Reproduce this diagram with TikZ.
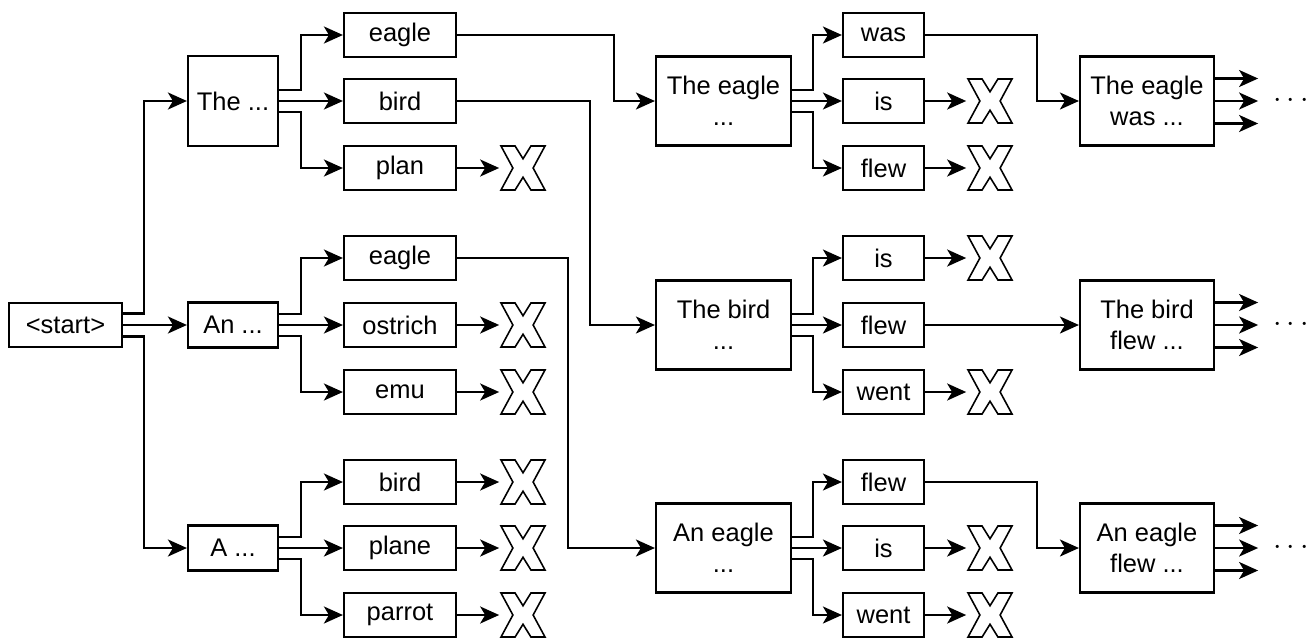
\documentclass[tikz,border=0pt]{standalone}
\usepackage{fontspec}
\setmainfont{Liberation Sans}
\usetikzlibrary{arrows.meta,positioning,calc}

\begin{document}
\begin{tikzpicture}[
            x=0.02cm, y=-0.02cm,
            font=\fontsize{14.5}{17.6}\selectfont,
            box/.style={
                    rectangle,
                    draw,
                    line width=1.25pt,
                    inner sep=0pt,
                    align=center
                },
            wordbox/.style={box, minimum width=2.24cm, minimum height=0.88cm},
            shortbox/.style={box, minimum width=1.62cm, minimum height=0.88cm},
            prefixbox/.style={box, minimum width=2.7cm, minimum height=1.78cm},
            resultbox/.style={box, minimum width=2.68cm, minimum height=1.78cm},
            rejectmark/.style={
                    minimum size=0.94cm,
                    inner sep=0pt,
                    path picture={
                            \draw[shift={(path picture bounding box.center)}, x=0.44cm, y=0.44cm,
                                line width=0.9pt, fill=white, line join=miter]
                            (-1,1) -- (-0.36,1) -- (0,0.42) -- (0.36,1) -- (1,1) -- (0.46,0)
                            -- (1,-1) -- (0.36,-1) -- (0,-0.42) -- (-0.36,-1) -- (-1,-1)
                            -- (-0.46,0) -- cycle;
                        }
                },
            moredots/.style={font=\fontsize{18}{18}\selectfont, inner sep=0pt},
            arrow/.style={-{Stealth[length=0.38cm, width=0.34cm, inset=0.1cm]}, line width=1.25pt}
        ]
        \useasboundingbox (0,0) rectangle (1310,639);

        % start and first words
        \node[box, minimum width=2.26cm, minimum height=0.88cm] (start) at (65.5,325) {<start>};
        \node[box, minimum width=1.8cm, minimum height=1.8cm] (the) at (233,101) {The ...};
        \node[box, minimum width=1.8cm, minimum height=0.9cm] (an) at (233,325) {An ...};
        \node[box, minimum width=1.8cm, minimum height=0.9cm] (a) at (233,548) {A ...};

        % second words
        \node[wordbox] (eagle1) at (400,35) {eagle};
        \node[wordbox] (bird1) at (400,101) {bird};
        \node[wordbox] (plan1) at (400,168) {plan};
        \node[wordbox] (eagle2) at (400,258) {eagle};
        \node[wordbox] (ostrich2) at (400,325) {ostrich};
        \node[wordbox] (emu2) at (400,392) {emu};
        \node[wordbox] (bird3) at (400,482) {bird};
        \node[wordbox] (plane3) at (400,548) {plane};
        \node[wordbox] (parrot3) at (400,615) {parrot};

        \node[rejectmark] (xplan1) at (523,168) {};
        \node[rejectmark] (xostrich2) at (523,325) {};
        \node[rejectmark] (xemu2) at (523,392) {};
        \node[rejectmark] (xbird3) at (523,482) {};
        \node[rejectmark] (xplane3) at (523,548) {};
        \node[rejectmark] (xparrot3) at (523,615) {};

        % kept prefixes
        \node[prefixbox] (theeagle) at (723.5,101) {The eagle\\...};
        \node[prefixbox] (thebird) at (723.5,325) {The bird\\...};
        \node[prefixbox] (aneagle) at (723.5,548) {An eagle\\...};

        % third words
        \node[shortbox] (was1) at (883.5,35) {was};
        \node[shortbox] (is1) at (883.5,101) {is};
        \node[shortbox] (flew1) at (883.5,168) {flew};
        \node[shortbox] (is2) at (883.5,258) {is};
        \node[shortbox] (flew2) at (883.5,325) {flew};
        \node[shortbox] (went2) at (883.5,392) {went};
        \node[shortbox] (flew3) at (883.5,482) {flew};
        \node[shortbox] (is3) at (883.5,548) {is};
        \node[shortbox] (went3) at (883.5,615) {went};

        \node[rejectmark] (xis1) at (990,101) {};
        \node[rejectmark] (xflew1) at (990,168) {};
        \node[rejectmark] (xis2) at (990,258) {};
        \node[rejectmark] (xwent2) at (990,392) {};
        \node[rejectmark] (xis3) at (990,548) {};
        \node[rejectmark] (xwent3) at (990,615) {};

        % results
        \node[resultbox] (eaglewas) at (1147,101) {The eagle\\was ...};
        \node[resultbox] (birdflew) at (1147,325) {The bird\\flew ...};
        \node[resultbox] (eagleflew) at (1147,548) {An eagle\\flew ...};

        \node[moredots] (dots1) at (1291,101) {$\cdots$};
        \node[moredots] (dots2) at (1291,325) {$\cdots$};
        \node[moredots] (dots3) at (1291,548) {$\cdots$};

        % from start
        \draw[arrow] ([yshift=0.23cm]start.east) -- ++(21,0) |- (the.west);
        \draw[arrow] (start) -- (an);
        \draw[arrow] ([yshift=-0.23cm]start.east) -- ++(21,0) |- (a.west);

        % first words to second words
        \draw[arrow] ([yshift=0.22cm]the.east) -- ++(22,0) |- (eagle1.west);
        \draw[arrow] (the) -- (bird1);
        \draw[arrow] ([yshift=-0.22cm]the.east) -- ++(22,0) |- (plan1.west);
        \draw[arrow] ([yshift=0.22cm]an.east) -- ++(22,0) |- (eagle2.west);
        \draw[arrow] (an) -- (ostrich2);
        \draw[arrow] ([yshift=-0.22cm]an.east) -- ++(22,0) |- (emu2.west);
        \draw[arrow] ([yshift=0.22cm]a.east) -- ++(22,0) |- (bird3.west);
        \draw[arrow] (a) -- (plane3);
        \draw[arrow] ([yshift=-0.22cm]a.east) -- ++(22,0) |- (parrot3.west);

        \draw[arrow] (plan1) -- (xplan1);
        \draw[arrow] (ostrich2) -- (xostrich2);
        \draw[arrow] (emu2) -- (xemu2);
        \draw[arrow] (bird3) -- (xbird3);
        \draw[arrow] (plane3) -- (xplane3);
        \draw[arrow] (parrot3) -- (xparrot3);

        % kept second words
        \draw[arrow] (eagle1.east) -- ++(157,0) |- (theeagle.west);
        \draw[arrow] (bird1.east) -- ++(133,0) |- (thebird.west);
        \draw[arrow] (eagle2.east) -- ++(111,0) |- (aneagle.west);

        % prefixes to third words
        \draw[arrow] ([yshift=0.22cm]theeagle.east) -- ++(21,0) |- (was1.west);
        \draw[arrow] (theeagle) -- (is1);
        \draw[arrow] ([yshift=-0.22cm]theeagle.east) -- ++(21,0) |- (flew1.west);
        \draw[arrow] ([yshift=0.22cm]thebird.east) -- ++(21,0) |- (is2.west);
        \draw[arrow] (thebird) -- (flew2);
        \draw[arrow] ([yshift=-0.22cm]thebird.east) -- ++(21,0) |- (went2.west);
        \draw[arrow] ([yshift=0.22cm]aneagle.east) -- ++(21,0) |- (flew3.west);
        \draw[arrow] (aneagle) -- (is3);
        \draw[arrow] ([yshift=-0.22cm]aneagle.east) -- ++(21,0) |- (went3.west);

        \draw[arrow] (is1) -- (xis1);
        \draw[arrow] (flew1) -- (xflew1);
        \draw[arrow] (is2) -- (xis2);
        \draw[arrow] (went2) -- (xwent2);
        \draw[arrow] (is3) -- (xis3);
        \draw[arrow] (went3) -- (xwent3);

        % kept third words
        \draw[arrow] (was1.east) -- ++(112,0) |- (eaglewas.west);
        \draw[arrow] (flew2) -- (birdflew);
        \draw[arrow] (flew3.east) -- ++(112,0) |- (eagleflew.west);

        % continuing
        \draw[arrow] ([yshift=0.45cm]eaglewas.east) -- ++(43,0);
        \draw[arrow] (eaglewas.east) -- ++(43,0);
        \draw[arrow] ([yshift=-0.45cm]eaglewas.east) -- ++(43,0);
        \draw[arrow] ([yshift=0.45cm]birdflew.east) -- ++(43,0);
        \draw[arrow] (birdflew.east) -- ++(43,0);
        \draw[arrow] ([yshift=-0.45cm]birdflew.east) -- ++(43,0);
        \draw[arrow] ([yshift=0.45cm]eagleflew.east) -- ++(43,0);
        \draw[arrow] (eagleflew.east) -- ++(43,0);
        \draw[arrow] ([yshift=-0.45cm]eagleflew.east) -- ++(43,0);
    \end{tikzpicture}
\end{document}
